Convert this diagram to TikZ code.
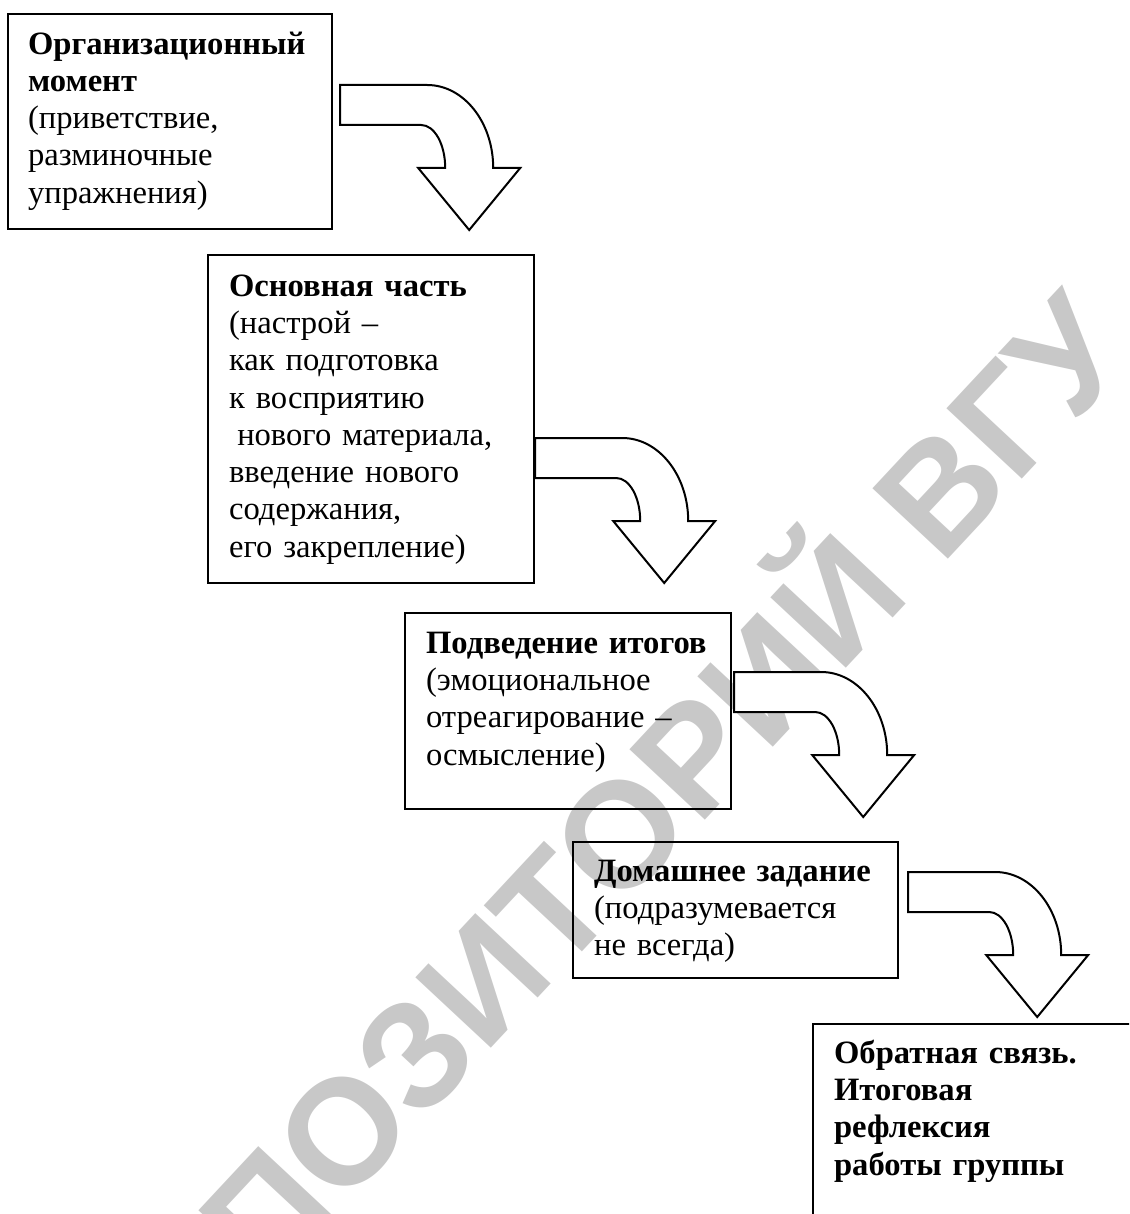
\documentclass[tikz,border=0pt]{standalone}
\usepackage{fontspec}
\setmainfont{Liberation Serif}
\newfontfamily\wmfont{Liberation Sans}
\usetikzlibrary{arrows,positioning}
\definecolor{wmgray}{RGB}{200,200,200}

\begin{document}
\begin{tikzpicture}[x=1pt,y=-1pt,
    stage/.style={draw,line width=2.2pt,anchor=north west,align=left,
        inner ysep=0pt,inner xsep=21pt,font=\fontsize{32.6}{37.3}\selectfont},
    bentarrow/.pic={
        \draw[line width=2pt,fill=white,line join=miter]
            (0,0) -- (87,0) arc[start angle=-90,end angle=0,x radius=66,y radius=83]
            -- (180,83) -- (129,145) -- (78,83) -- (105,83)
            arc[start angle=0,end angle=-90,x radius=24,y radius=43]
            -- (0,40) -- cycle;}]
    \useasboundingbox (0,0) rectangle (1129,1214);
    \clip (0,0) rectangle (1129,1214);
    % watermark
    \node[rotate=47,text=wmgray,font=\wmfont\bfseries\fontsize{150}{150}\selectfont] (wm) at (585,850) {РЕПОЗИТОРИЙ ВГУ};
    % stages
    \node[stage,text width=284pt,inner xsep=20pt,text height=40pt,text depth=175pt] (Org) at (7,13)
        {\textbf{Организационный}\\ \textbf{момент}\\ (приветствие,\\ разминочные\\ упражнения)};
    \node[stage,text width=284pt,text height=41pt,text depth=287pt] (Osn) at (207,254)
        {\textbf{Основная часть}\\ (настрой –\\ как подготовка\\ к восприятию\\ \hspace*{0.25em}нового материала,\\ введение нового\\ содержания,\\ его закрепление)};
    \node[stage,text width=284pt,text height=40pt,text depth=156pt] (Pod) at (404,612)
        {\textbf{Подведение итогов}\\ (эмоциональное\\ отреагирование –\\ осмысление)};
    \node[stage,text width=283pt,text height=39pt,text depth=97pt] (Dom) at (572,841)
        {\textbf{Домашнее задание}\\ (подразумевается\\ не всегда)};
    \node[stage,text width=310pt,text height=39pt,text depth=230pt] (Obr) at (812,1023)
        {\textbf{Обратная связь.}\\ \textbf{Итоговая}\\ \textbf{рефлексия}\\ \textbf{работы группы}};
    % arrows
    \pic at ([xshift=7pt,yshift=-72pt]Org.north east) {bentarrow};
    \pic at ([yshift=-184pt]Osn.north east) {bentarrow};
    \pic at ([xshift=2pt,yshift=-60pt]Pod.north east) {bentarrow};
    \pic at ([xshift=9pt,yshift=-31pt]Dom.north east) {bentarrow};
\end{tikzpicture}
\end{document}
